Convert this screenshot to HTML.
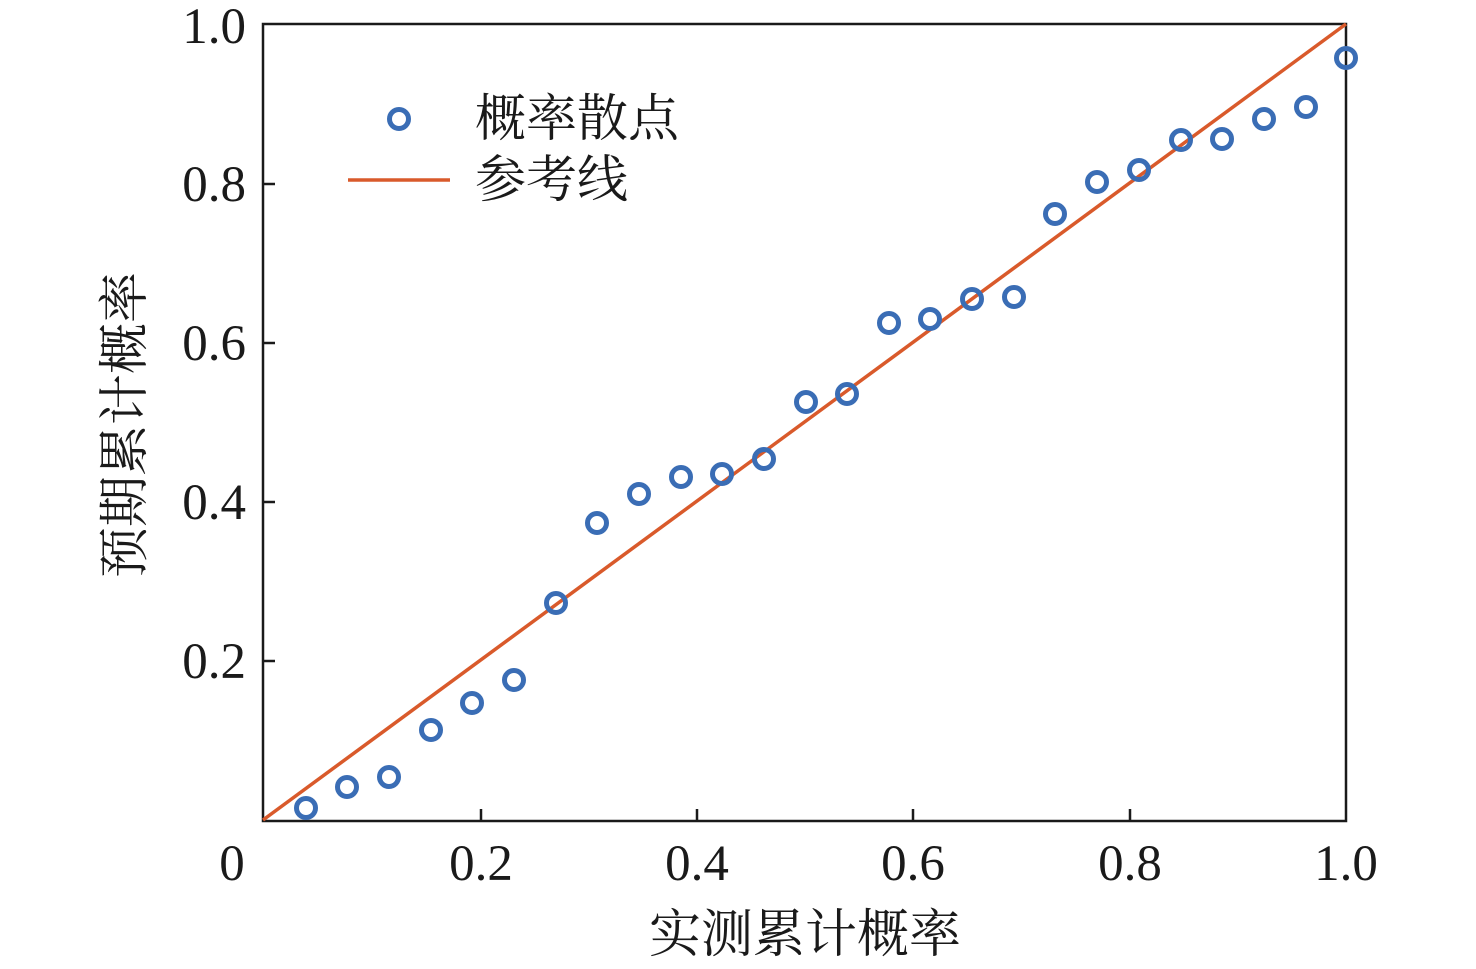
<!DOCTYPE html>
<html><head><meta charset="utf-8"><style>
html,body{margin:0;padding:0;background:#fff;}
svg{display:block;}
text{font-family:"Liberation Serif","Noto Serif CJK SC",serif;fill:#1a1a1a;}
</style></head><body>
<svg width="1476" height="969" viewBox="0 0 1476 969" xmlns="http://www.w3.org/2000/svg">
<rect x="263" y="24" width="1083" height="797" fill="none" stroke="#1a1a1a" stroke-width="2.5"/>
<g stroke="#1a1a1a" stroke-width="2.5">
<line x1="481" y1="821" x2="481" y2="809"/><line x1="697" y1="821" x2="697" y2="809"/><line x1="913" y1="821" x2="913" y2="809"/><line x1="1130" y1="821" x2="1130" y2="809"/>
<line x1="263" y1="661" x2="275" y2="661"/><line x1="263" y1="502" x2="275" y2="502"/><line x1="263" y1="343" x2="275" y2="343"/><line x1="263" y1="184" x2="275" y2="184"/>
</g>
<g font-size="51" text-anchor="middle">
<text x="232" y="880">0</text><text x="481" y="880">0.2</text><text x="697" y="880">0.4</text><text x="913" y="880">0.6</text><text x="1130" y="880">0.8</text><text x="1346" y="880">1.0</text>
</g>
<g font-size="51" text-anchor="end">
<text x="246" y="678">0.2</text><text x="246" y="519">0.4</text><text x="246" y="360">0.6</text><text x="246" y="201">0.8</text><text x="246" y="43">1.0</text>
</g>
<text x="805" y="952" font-size="52" text-anchor="middle">实测累计概率</text>
<text transform="translate(142,425) rotate(-90)" font-size="51" text-anchor="middle">预期累计概率</text>
<line x1="263" y1="820" x2="1346" y2="24" stroke="#d95a2b" stroke-width="3.5"/>
<g fill="none" stroke="#3a6db5" stroke-width="5">
<circle cx="306" cy="808" r="9.5"/><circle cx="347" cy="787" r="9.5"/><circle cx="389" cy="777" r="9.5"/><circle cx="431" cy="730" r="9.5"/><circle cx="472" cy="703" r="9.5"/><circle cx="514" cy="680" r="9.5"/><circle cx="556" cy="603" r="9.5"/><circle cx="597" cy="523" r="9.5"/><circle cx="639" cy="494" r="9.5"/><circle cx="681" cy="477" r="9.5"/><circle cx="722" cy="474" r="9.5"/><circle cx="764" cy="459" r="9.5"/><circle cx="806" cy="402" r="9.5"/><circle cx="847" cy="394" r="9.5"/><circle cx="889" cy="323" r="9.5"/><circle cx="930" cy="319" r="9.5"/><circle cx="972" cy="299" r="9.5"/><circle cx="1014" cy="297" r="9.5"/><circle cx="1055" cy="214" r="9.5"/><circle cx="1097" cy="182" r="9.5"/><circle cx="1139" cy="170" r="9.5"/><circle cx="1181" cy="140" r="9.5"/><circle cx="1222" cy="139" r="9.5"/><circle cx="1264" cy="119" r="9.5"/><circle cx="1306" cy="107" r="9.5"/><circle cx="1346" cy="58" r="9.5"/>
<circle cx="399" cy="119" r="9.5"/>
</g>
<line x1="348" y1="180" x2="450" y2="180" stroke="#d95a2b" stroke-width="3.5"/>
<text x="475" y="136" font-size="51">概率散点</text>
<text x="475" y="197" font-size="51">参考线</text>
</svg>
</body></html>
